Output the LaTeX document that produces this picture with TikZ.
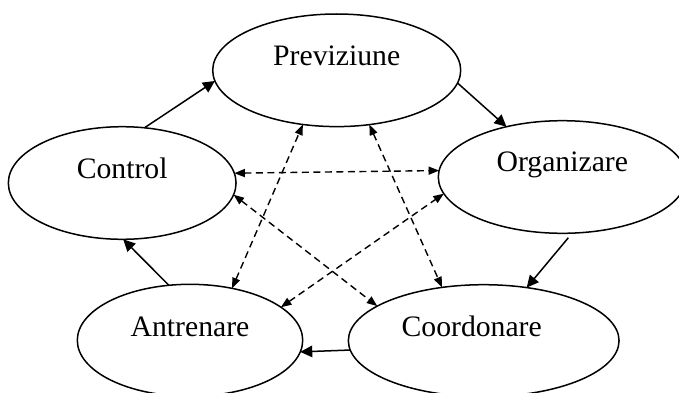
\documentclass[tikz,border=0pt]{standalone}
\usepackage{fontspec}
\setmainfont{Liberation Serif}
\usetikzlibrary{shapes.geometric}
\usetikzlibrary{arrows.meta}

\begin{document}
\begin{tikzpicture}[x=1pt,y=1pt,
    stage/.style={ellipse,draw,line width=1.5pt,inner sep=0pt,outer sep=0pt},
    stagetext/.style={anchor=base,inner sep=0pt,font=\fontsize{29.7}{34}\selectfont},
    flow/.style={line width=1.5pt,-{Triangle[length=12pt,width=11.5pt]}},
    link/.style={line width=1.4pt,dash pattern=on 7pt off 4.5pt,
      {Triangle[length=10.5pt,width=8pt]}-{Triangle[length=10.5pt,width=8pt]}}]
    \useasboundingbox (0,0) rectangle (679,392);
    % the five stages
    \node[stage,minimum width=248pt,minimum height=112.6pt] (prev) at (336.7,321.7) {};
    \node[stage,minimum width=227.7pt,minimum height=112.6pt] (ctrl) at (122.2,209) {};
    \node[stage,minimum width=248pt,minimum height=112.6pt] (org) at (562.3,215) {};
    \node[stage,minimum width=270.7pt,minimum height=112pt] (coord) at (483.7,51.3) {};
    \node[stage,minimum width=225.4pt,minimum height=112pt] (antr) at (190,51.7) {};
    \node[stagetext] (prevtxt) at ([yshift=4.7pt]prev.center) {Previziune};
    \node[stagetext] (ctrltxt) at ([yshift=4.7pt]ctrl.center) {Control};
    \node[stagetext] (orgtxt) at ([yshift=5.3pt]org.center) {Organizare};
    \node[stagetext] (coordtxt) at ([xshift=-12pt,yshift=4.7pt]coord.center) {Coordonare};
    \node[stagetext] (antrtxt) at ([yshift=4.3pt]antr.center) {Antrenare};
    % the cycle
    \draw[flow] (ctrl.68.6) -- (prev.185.3);
    \draw[flow] (prev.354.7) -- (org.138.3);
    \draw[flow,shorten <=6pt] (org.280.6) -- (coord.51.2);
    \draw[flow] (coord.184.9) -- (antr.354);
    \draw[flow] (antr.111.7) -- (ctrl.271.1);
    % the links across
    \draw[link] (ctrl.5.7) -- (org.177.6);
    \draw[link] (ctrl.354.3) -- (coord.162.7);
    \draw[link] (antr.51.1) -- (prev.238.9);
    \draw[link] (prev.301.4) -- (coord.128.9);
    \draw[link] (antr.20.7) -- (org.188.2);
\end{tikzpicture}
\end{document}
